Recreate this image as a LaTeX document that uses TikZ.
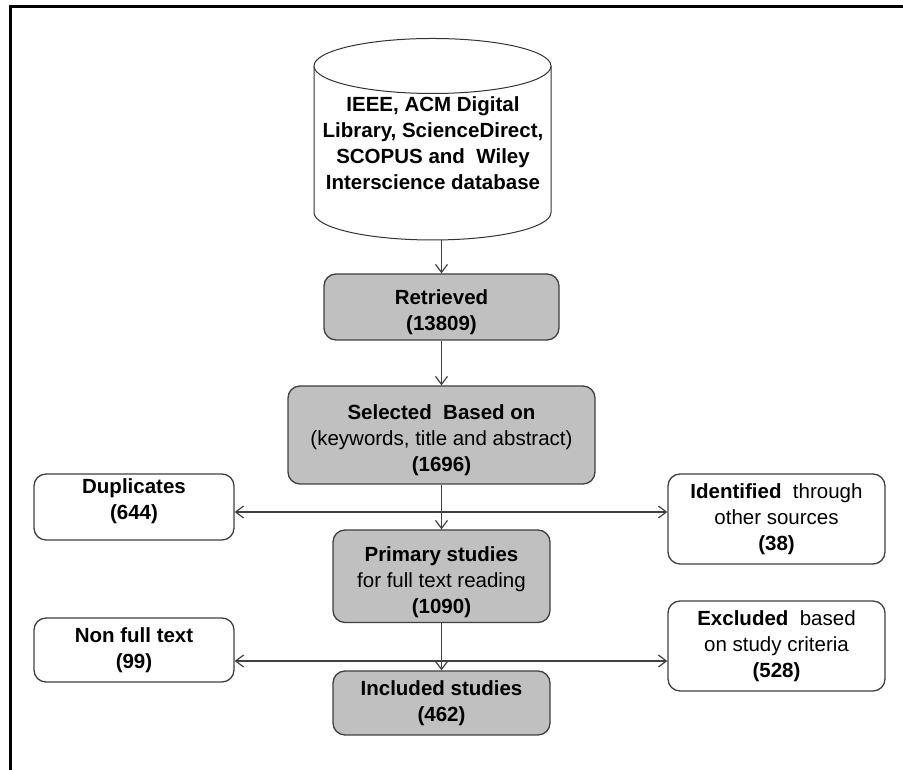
\documentclass[tikz,border=0pt]{standalone}
\usepackage{fontspec}
\setmainfont{Liberation Sans}
\usetikzlibrary{arrows.meta}
\definecolor{boxgray}{HTML}{C0C0C0}
\definecolor{edgegray}{HTML}{404040}
\begin{document}
\begin{tikzpicture}[x=1pt,y=1pt,
  every node/.style={font=\fontsize{20.5}{26}\selectfont, align=center, inner sep=0pt},
  mainbox/.style={draw=edgegray, line width=1.3pt, fill=boxgray, rounded corners=12pt},
  sidebox/.style={draw=edgegray, line width=1.3pt, fill=white, rounded corners=12pt},
  dbline/.style={draw=black!80, line width=1pt},
  flow/.style={draw=edgegray, line width=1.2pt, -{Straight Barb[length=8pt,width=12pt]}},
  twoway/.style={draw=edgegray, line width=1.2pt, {Straight Barb[length=8pt,width=12pt]}-{Straight Barb[length=8pt,width=12pt]}}
]
\useasboundingbox (0,0) rectangle (903,770);
% page frame (left and top edges)
\draw[line width=3pt] (10,0) -- (10,763) -- (903,763);

% database cylinder
\draw[dbline, fill=white] (314,704) -- (314,557.5)
  arc[start angle=180, end angle=360, x radius=118.5, y radius=27.5] -- (551,704);
\draw[dbline, fill=white] (432.5,704) ellipse[x radius=118.5, y radius=27.5];
\node (db) at (433,626.5) {\textbf{IEEE, ACM Digital}\\\textbf{Library, ScienceDirect,}\\\textbf{SCOPUS and\ \ Wiley}\\\textbf{Interscience database}};
\coordinate (dbbot) at (441.5,530);

% main flow (an empty leading line sets the text a little low in the box)
\node[mainbox, minimum width=235pt, minimum height=66pt] (ret) at (441.5,463) {\mbox{}\\\textbf{Retrieved}\\\textbf{(13809)}};
\node[mainbox, minimum width=307pt, minimum height=98pt] (sel) at (441.5,335) {\mbox{}\\\textbf{Selected\ \ Based on}\\(keywords, title and abstract)\\\textbf{(1696)}};
\node[mainbox, minimum width=217pt, minimum height=92.5pt] (pri) at (441.5,193.75) {\mbox{}\\\textbf{Primary studies}\\for full text reading\\\textbf{(1090)}};
\node[mainbox, minimum width=217pt, minimum height=64pt] (inc) at (441.5,67) {\textbf{Included studies}\\\textbf{(462)}};

% side boxes
\node[sidebox, minimum width=200pt, minimum height=66pt] (dup) at (134,263) {\textbf{Duplicates}\\\textbf{(644)}\\[-10pt]\mbox{}};
\node[sidebox, minimum width=200pt, minimum height=64pt] (nft) at (134,120) {\textbf{Non full text}\\\textbf{(99)}};
\node[sidebox, minimum width=217pt, minimum height=90pt] (idf) at (776.5,251) {\textbf{Identified}\ \ through\\other sources\\\textbf{(38)}};
\node[sidebox, minimum width=217pt, minimum height=90pt] (exc) at (776.5,124) {\textbf{Excluded}\ \ based\\on study criteria\\\textbf{(528)}};

% connectors
\draw[flow] (dbbot) -- (ret.north);
\draw[flow] (ret) -- (sel);
\draw[flow] (sel) -- (pri);
\draw[flow] (pri) -- (inc);
\coordinate (j1) at (441.5,258);
\coordinate (j2) at (441.5,109);
\draw[twoway] (dup.east |- j1) -- (idf.west |- j1);
\draw[twoway] (nft.east |- j2) -- (exc.west |- j2);
\end{tikzpicture}
\end{document}
